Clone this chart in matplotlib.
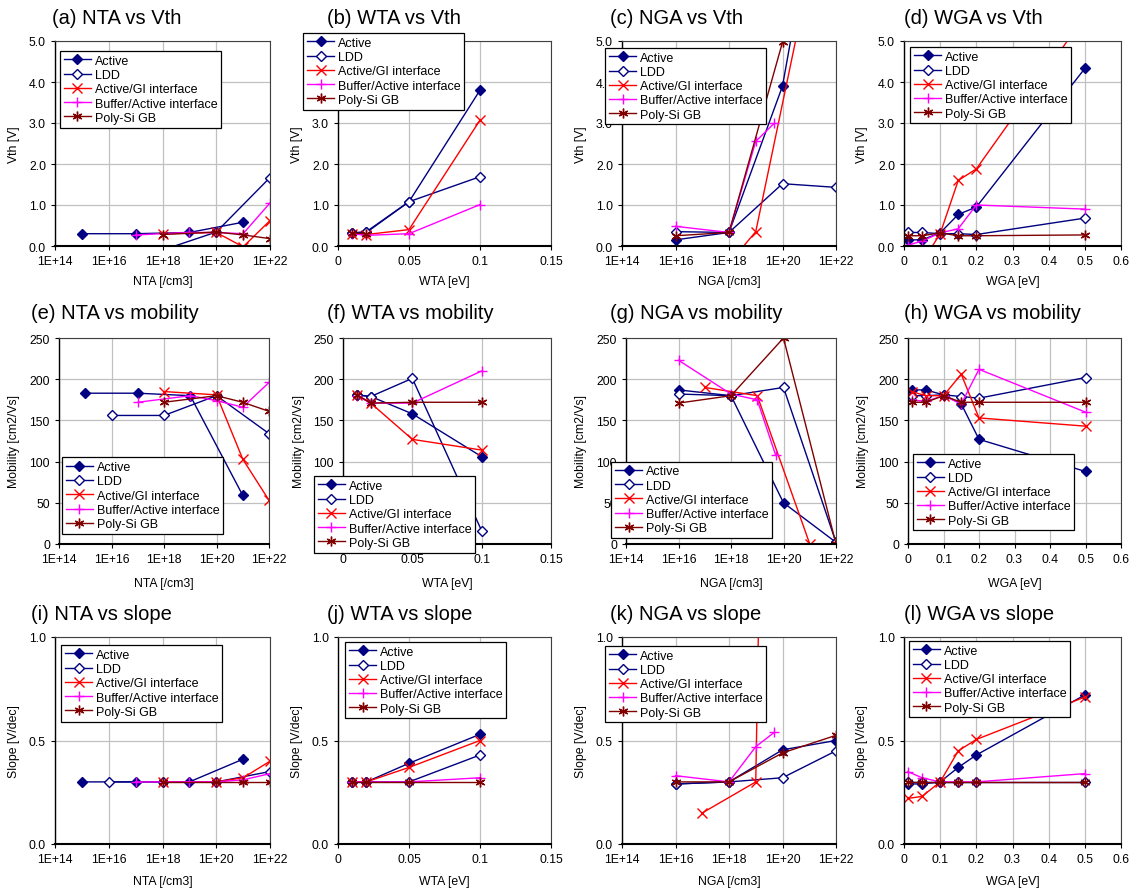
import matplotlib.pyplot as plt
from matplotlib.ticker import NullLocator
import numpy as np

plt.rcParams['font.family'] = ['Liberation Sans', 'DejaVu Sans']

nan = np.nan
series = ['Active', 'LDD', 'Active/GI interface', 'Buffer/Active interface', 'Poly-Si GB']

# x values of each series (Active, LDD, GI, Buffer, GB)
nta_x = [[1e15, 1e17, 1e19, 1e21], [1e16, 1e18, 1e20, 1e22], [1e18, 1e20, 1e21, 1e22],
         [1e17, 1e19, 1e20, 1e21, 1e22], [1e18, 1e20, 1e21, 1e22]]
wta_x = [[0.01, 0.02, 0.05, 0.1]] * 5
nga_x = [[1e16, 1e18, 1e20, 1e22], [1e16, 1e18, 1e20, 1e22], [1e17, 1e19, 1e21],
         [1e16, 1e18, 1e19, 5e19], [1e16, 1e18, 1e20, 1e22]]
wga_x = [[0.01, 0.05, 0.1, 0.15, 0.2, 0.5]] * 5

# Vth [V]
nta_vth = [[0.30, 0.30, 0.33, 0.58], [-0.1, -0.1, 0.34, 1.67], [0.30, 0.33, -0.02, 0.62],
           [0.27, 0.33, 0.33, 0.30, 1.05], [0.28, 0.34, 0.27, 0.18]]
wta_vth = [[0.32, 0.35, 1.08, 3.80], [0.32, 0.33, 1.08, 1.69], [0.30, 0.28, 0.40, 3.07],
           [0.30, 0.26, 0.30, 1.01], [0.32, 0.30, nan, nan]]
nga_vth = [[0.15, 0.33, 3.90, 11.2], [0.35, 0.33, 1.52, 1.43], [-1.2, 0.35, 6.6],
           [0.48, 0.33, 2.55, 3.0], [0.25, 0.33, 4.97, nan]]
wga_vth = [[0.15, 0.15, 0.32, 0.77, 0.95, 4.33], [0.33, 0.33, 0.30, 0.30, 0.28, 0.68],
           [-0.9, -0.4, 0.30, 1.60, 1.88, 5.6], [0.02, 0.12, 0.32, 0.42, 1.00, 0.90],
           [0.25, 0.25, 0.32, 0.25, 0.25, 0.27]]

# mobility [cm2/Vs]
nta_mob = [[183, 183, 180, 59], [156, 156, 180, 134], [185, 181, 103, 53],
           [172, 180, 174, 166, 196], [172, 180, 172, 161]]
wta_mob = [[181, 179, 158, 106], [181, 179, 201, 16], [181, 171, 127, 114],
           [180, 171, 171, 210], [181, 171, 172, 172]]
nga_mob = [[187, 180, 50, 2], [182, 180, 190, 2], [190, 180, 0],
           [223, 182, 175, 108], [171, 180, 250, 0]]
wga_mob = [[187, 187, 181, 170, 127, 88], [180, 180, 181, 179, 177, 202],
           [185, 180, 180, 206, 153, 143], [175, 173, 180, 170, 212, 160],
           [172, 172, 180, 172, 172, 172]]

# slope [V/dec]
nta_slope = [[0.30, 0.30, 0.30, 0.41], [0.30, 0.30, 0.30, 0.35], [0.30, 0.30, 0.32, 0.40],
             [0.30, 0.30, 0.30, 0.31, 0.34], [0.30, 0.30, 0.30, 0.30]]
wta_slope = [[0.30, 0.30, 0.39, 0.53], [0.30, 0.30, 0.30, 0.43], [0.30, 0.30, 0.37, 0.50],
             [0.30, 0.30, 0.30, 0.32], [0.30, 0.30, 0.30, 0.30]]
nga_slope = [[0.29, 0.30, 0.455, 0.50], [0.29, 0.30, 0.32, 0.45], [0.15, 0.30, 15.0],
             [0.33, 0.30, 0.47, 0.54], [0.30, 0.30, 0.44, 0.525]]
wga_slope = [[0.29, 0.29, 0.30, 0.37, 0.43, 0.72], [0.30] * 6,
             [0.22, 0.23, 0.30, 0.45, 0.505, 0.71], [0.35, 0.32, 0.30, 0.30, 0.30, 0.34],
             [0.30] * 6]

colors = ['#000080', '#000080', '#FF0000', '#FF00FF', '#800000']
markers = ['D', 'D', 'x', '+', (6, 2, 0)]
faces = ['#000080', 'white', 'none', 'none', 'none']
msizes = [5, 5, 7, 7, 7]

W, H = 1135, 895
fig = plt.figure(figsize=(W / 100, H / 100), dpi=100)

row_y = [(42, 247), (339, 545), (638, 845)]
col_x = [[(55, 270), (338, 551), (622, 836), (904, 1121)],
         [(59, 269), (343, 551), (626, 836), (908, 1121)],
         [(55, 270), (338, 551), (622, 836), (904, 1121)]]
title_x = [[52, 327, 610, 904], [31, 327, 610, 904], [31, 327, 610, 904]]
title_y = [18, 314, 615]

panels = [
    ('(a) NTA vs Vth', nta_x, nta_vth, 'NTA [/cm3]', 'Vth [V]', 'log', 'vth', (0.023, 0.951)),
    ('(b) WTA vs Vth', wta_x, wta_vth, 'WTA [eV]', 'Vth [V]', 'wta', 'vth', (-0.164, 1.039)),
    ('(c) NGA vs Vth', nga_x, nga_vth, 'NGA [/cm3]', 'Vth [V]', 'log', 'vth', (-0.079, 0.966)),
    ('(d) WGA vs Vth', wga_x, wga_vth, 'WGA [eV]', 'Vth [V]', 'wga', 'vth', (0.028, 0.971)),
    ('(e) NTA vs mobility', nta_x, nta_mob, 'NTA [/cm3]', 'Mobility [cm2/Vs]', 'log', 'mob', (0.014, 0.42)),
    ('(f) WTA vs mobility', wta_x, wta_mob, 'WTA [eV]', 'Mobility [cm2/Vs]', 'wta', 'mob', (-0.14, 0.33)),
    ('(g) NGA vs mobility', nga_x, nga_mob, 'NGA [/cm3]', 'Mobility [cm2/Vs]', 'log', 'mob', (-0.071, 0.40)),
    ('(h) WGA vs mobility', wga_x, wga_mob, 'WGA [eV]', 'Mobility [cm2/Vs]', 'wga', 'mob', (0.023, 0.437)),
    ('(i) NTA vs slope', nta_x, nta_slope, 'NTA [/cm3]', 'Slope [V/dec]', 'log', 'slope', (0.028, 0.961)),
    ('(j) WTA vs slope', wta_x, wta_slope, 'WTA [eV]', 'Slope [V/dec]', 'wta', 'slope', (0.033, 0.976)),
    ('(k) NGA vs slope', nga_x, nga_slope, 'NGA [/cm3]', 'Slope [V/dec]', 'log', 'slope', (-0.079, 0.957)),
    ('(l) WGA vs slope', wga_x, wga_slope, 'WGA [eV]', 'Slope [V/dec]', 'wga', 'slope', (0.023, 0.981)),
]

for i, (title, xs, ys, xlabel, ylabel, xkind, ykind, leg) in enumerate(panels):
    r, c = divmod(i, 4)
    x0, x1 = col_x[r][c]
    y0, y1 = row_y[r]
    ax = fig.add_axes([x0 / W, 1 - y1 / H, (x1 - x0) / W, (y1 - y0) / H])

    for k in range(5):
        ax.plot(xs[k], ys[k], color=colors[k], lw=1.0, marker=markers[k],
                markersize=msizes[k], markerfacecolor=faces[k],
                markeredgecolor=colors[k], markeredgewidth=1.0, label=series[k])

    if xkind == 'log':
        ax.set_xscale('log')
        ax.set_xlim(1e14, 1e22)
        ax.set_xticks([1e14, 1e16, 1e18, 1e20, 1e22])
        ax.set_xticklabels(['1E+14', '1E+16', '1E+18', '1E+20', '1E+22'])
        ax.xaxis.set_minor_locator(NullLocator())
    elif xkind == 'wta':
        ax.set_xlim(0, 0.15)
        ax.set_xticks([0, 0.05, 0.1, 0.15])
        ax.set_xticklabels(['0', '0.05', '0.1', '0.15'])
    else:
        ax.set_xlim(0, 0.6)
        ax.set_xticks(np.arange(0, 0.61, 0.1))
        ax.set_xticklabels(['0', '0.1', '0.2', '0.3', '0.4', '0.5', '0.6'])

    if ykind == 'vth':
        ax.set_ylim(0, 5)
        ax.set_yticks(np.arange(0, 5.1, 1.0))
        ax.set_yticklabels(['%.1f' % v for v in np.arange(0, 5.1, 1.0)])
    elif ykind == 'mob':
        ax.set_ylim(0, 250)
        ax.set_yticks(np.arange(0, 251, 50))
    else:
        ax.set_ylim(0, 1)
        ax.set_yticks([0, 0.5, 1.0])
        ax.set_yticklabels(['0.0', '0.5', '1.0'])

    ax.grid(True, color='#c0c0c0', lw=0.9)
    ax.set_axisbelow(True)
    ax.tick_params(labelsize=8.8, length=3, direction='out', color='black')
    for s in ['top', 'right']:
        ax.spines[s].set_color('#404040')
    ax.spines['left'].set_linewidth(1.0)
    ax.spines['bottom'].set_linewidth(1.5)

    ax.set_xlabel(xlabel, fontsize=8.8)
    ax.set_ylabel(ylabel, fontsize=8.8)
    ax.xaxis.set_label_coords(0.5, [-0.14, -0.16, -0.15][r])
    ax.yaxis.set_label_coords([-0.165, -0.185, -0.165][r], 0.5)

    lg = ax.legend(loc='upper left', bbox_to_anchor=leg, borderaxespad=0,
                   fontsize=9, fancybox=False, framealpha=1, edgecolor='black',
                   labelspacing=0.18, handlelength=2.2, handletextpad=0.3,
                   borderpad=0.3)
    lg.get_frame().set_linewidth(0.9)

    fig.text(title_x[r][c] / W, 1 - title_y[r] / H, title, fontsize=14.5,
             ha='left', va='center')

fig.savefig('out.png', dpi=100)
